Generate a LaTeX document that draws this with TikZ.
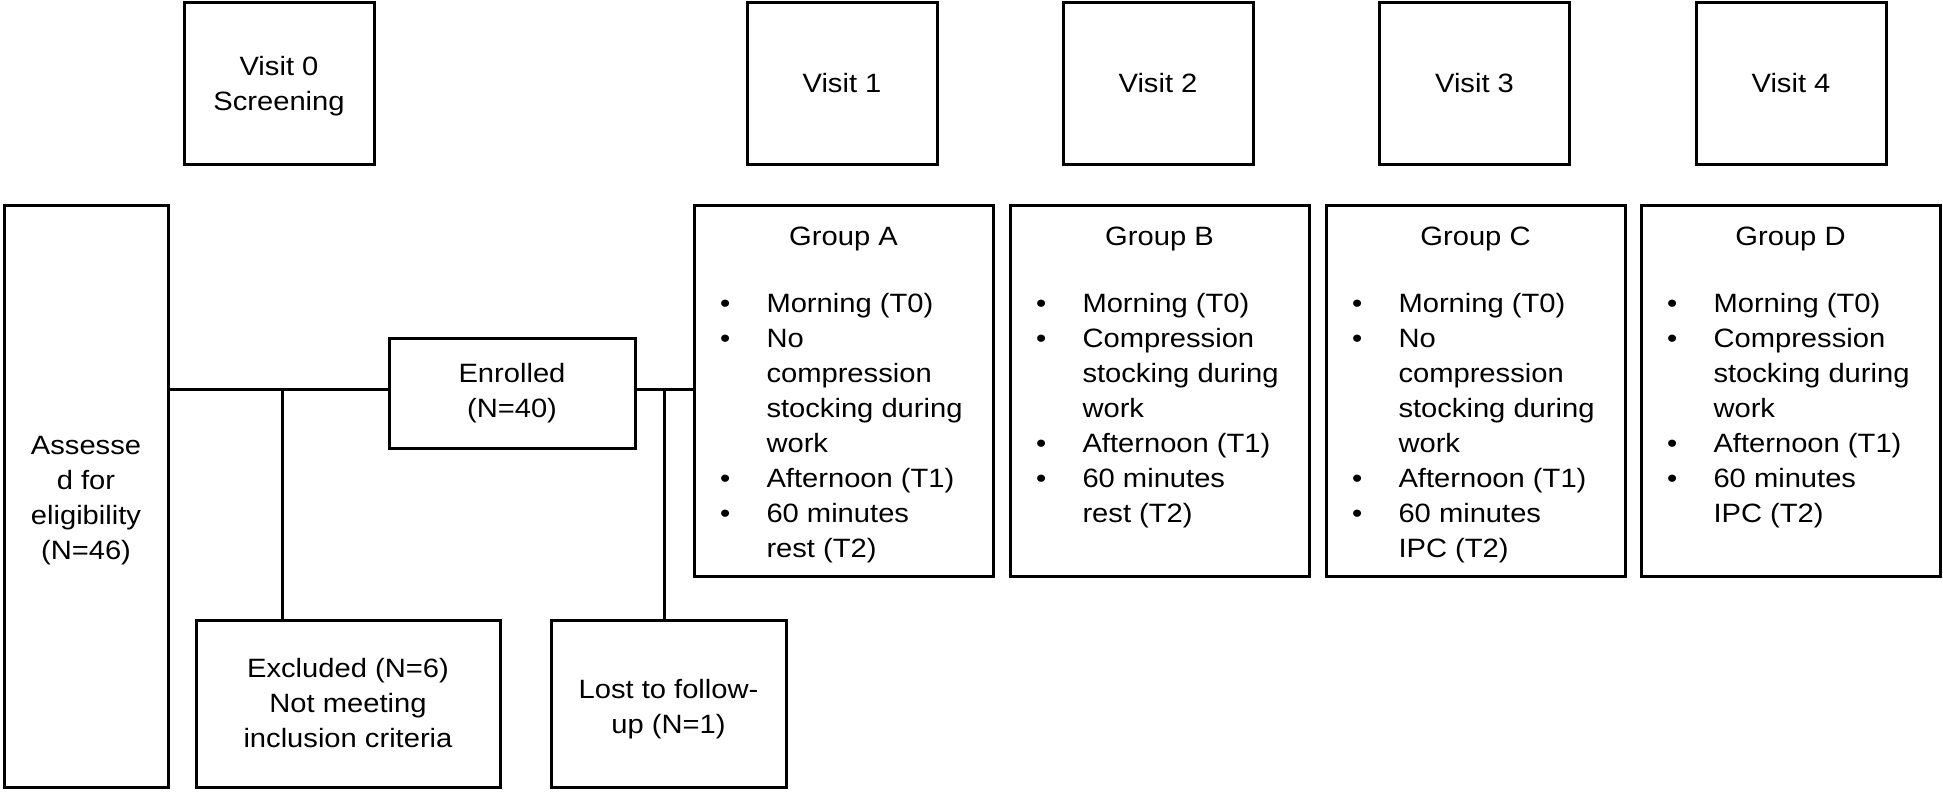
\documentclass[tikz,border=0pt]{standalone}
\usepackage{fontspec}
\setmainfont{Liberation Sans}[FakeStretch=1.1]
\usetikzlibrary{calc}
\newcommand{\glist}[1]{\begin{tabular}{@{}p{46.5pt}@{}l@{}}#1\end{tabular}}
\begin{document}
\begin{tikzpicture}[x=1pt,y=-1pt,
  box/.style={draw, line width=3pt, inner sep=0pt, outer sep=0pt, align=center,
    font=\fontsize{26.5}{35}\selectfont},
  visitbox/.style={box, minimum width=190pt, minimum height=161pt},
  groupbox/.style={box, minimum width=299pt, minimum height=371pt},
  txt/.style={inner sep=0pt, outer sep=0pt, align=center, font=\fontsize{26.5}{35}\selectfont},
  link/.style={line width=3pt}]
\useasboundingbox (0,0) rectangle (1943,792);

% visits
\node[visitbox] (v0) at (279,83.5) {};
\node[txt] (v0t) at ($(v0.center)+(0,3)$) {Visit 0\\Screening};
\node[visitbox] (v1) at (842,83.5) {Visit 1};
\node[visitbox] (v2) at (1158,83.5) {Visit 2};
\node[visitbox] (v3) at (1474.5,83.5) {Visit 3};
\node[visitbox] (v4) at (1791,83.5) {Visit 4};

% left part
\node[box, minimum width=164pt, minimum height=582pt] (ass) at (86,496) {};
\node[txt] (asst) at ($(ass.center)+(0,5)$) {Assesse\\d for\\eligibility\\(N=46)};
\node[box, minimum width=246pt, minimum height=110pt] (enr) at (512,393) {Enrolled\\(N=40)};
\node[box, minimum width=304pt, minimum height=167pt] (exc) at (348,703.5) {Excluded (N=6)\\Not meeting\\inclusion criteria};
\node[box, minimum width=235pt, minimum height=167pt] (lost) at (668.5,703.5) {};
\node[txt] (lostt) at ($(lost.center)+(0,6)$) {Lost to follow-\\up (N=1)};

% groups
\node[groupbox] (gA) at (843.5,390.5) {};
\node[groupbox] (gB) at (1159.5,390.5) {};
\node[groupbox] (gC) at (1475.5,390.5) {};
\node[groupbox] (gD) at (1790.5,390.5) {};

\node[txt, anchor=base] (tA) at ($(gA.north)+(0,40.5)$) {Group A};
\node[txt, anchor=base] (tB) at ($(gB.north)+(0,40.5)$) {Group B};
\node[txt, anchor=base] (tC) at ($(gC.north)+(0,40.5)$) {Group C};
\node[txt, anchor=base] (tD) at ($(gD.north)+(0,40.5)$) {Group D};

\node[txt, anchor=north west] (lA) at ($(gA.north west)+(26,82.5)$) {\glist{%
\textbullet & Morning (T0)\\
\textbullet & No\\
 & compression\\
 & stocking during\\
 & work\\
\textbullet & Afternoon (T1)\\
\textbullet & 60 minutes\\
 & rest (T2)}};
\node[txt, anchor=north west] (lB) at ($(gB.north west)+(26,82.5)$) {\glist{%
\textbullet & Morning (T0)\\
\textbullet & Compression\\
 & stocking during\\
 & work\\
\textbullet & Afternoon (T1)\\
\textbullet & 60 minutes\\
 & rest (T2)}};
\node[txt, anchor=north west] (lC) at ($(gC.north west)+(26,82.5)$) {\glist{%
\textbullet & Morning (T0)\\
\textbullet & No\\
 & compression\\
 & stocking during\\
 & work\\
\textbullet & Afternoon (T1)\\
\textbullet & 60 minutes\\
 & IPC (T2)}};
\node[txt, anchor=north west] (lD) at ($(gD.north west)+(26,82.5)$) {\glist{%
\textbullet & Morning (T0)\\
\textbullet & Compression\\
 & stocking during\\
 & work\\
\textbullet & Afternoon (T1)\\
\textbullet & 60 minutes\\
 & IPC (T2)}};

% connectors
\coordinate (j1) at (282,389);
\coordinate (j2) at (664,389);
\draw[link] (ass.east |- j1) -- (j1) -- (enr.west |- j1);
\draw[link] (enr.east |- j2) -- (j2) -- (gA.west |- j2);
\draw[link] (j1) -- (j1 |- exc.north);
\draw[link] (j2) -- (j2 |- lost.north);
\end{tikzpicture}
\end{document}
